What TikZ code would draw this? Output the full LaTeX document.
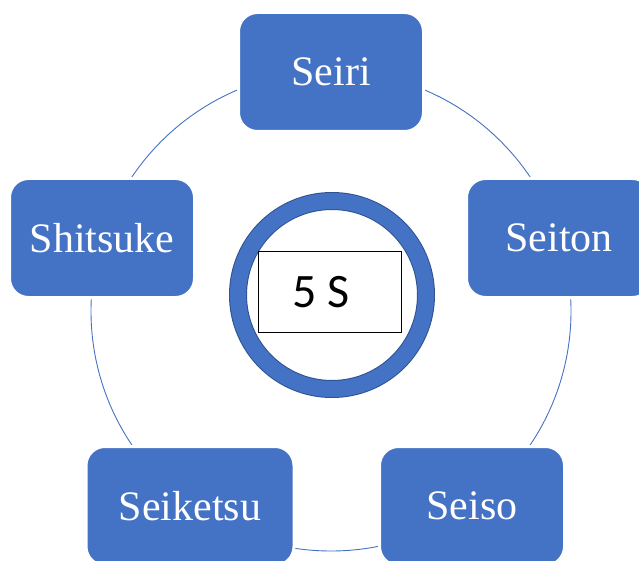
\documentclass[tikz,border=0pt]{standalone}
\usepackage{fontspec}
\setmainfont{Liberation Serif}
\newfontfamily\calibri{Carlito}
\definecolor{officeblue}{HTML}{4472C4}
\definecolor{ringedge}{HTML}{2F528F}

\begin{document}
\begin{tikzpicture}[x = 1pt, y = -1pt,
		sbox/.style = {rectangle, rounded corners = 19pt, fill = officeblue, draw = white, line width = 3pt,
			minimum width = 185pt, minimum height = 119pt, inner sep = 0pt, text = white,
			font = \fontsize{42}{50}\selectfont}]
	\useasboundingbox (0, 0) rectangle (639, 561);
		% the cycle
		\draw[officeblue, line width = 0.9pt] (331, 311) circle [radius = 240pt];
		% the five steps
		\node[sbox] (seiri) at (331, 72) {Seiri};
		\node[sbox] (seiton) at (559, 238) {Seiton};
		\node[sbox] (seiso) at (472, 506) {Seiso};
		\node[sbox, minimum width = 208pt] (seiketsu) at (190, 506) {Seiketsu};
		\node[sbox] (shitsuke) at (102, 238) {Shitsuke};
		% the centre
		\node[circle, minimum size = 188pt, inner sep = 0pt, draw = ringedge, line width = 1pt,
			double = officeblue, double distance = 16pt] (ring) at (332, 295) {};
		\node[rectangle, draw = black, line width = 0.8pt, fill = white,
			minimum width = 143pt, minimum height = 81pt] (frame) at (329.5, 291.5) {};
		\node[font = \calibri\fontsize{48}{56}\selectfont] (title) at (321, 292) {5 S};
	\end{tikzpicture}
\end{document}
